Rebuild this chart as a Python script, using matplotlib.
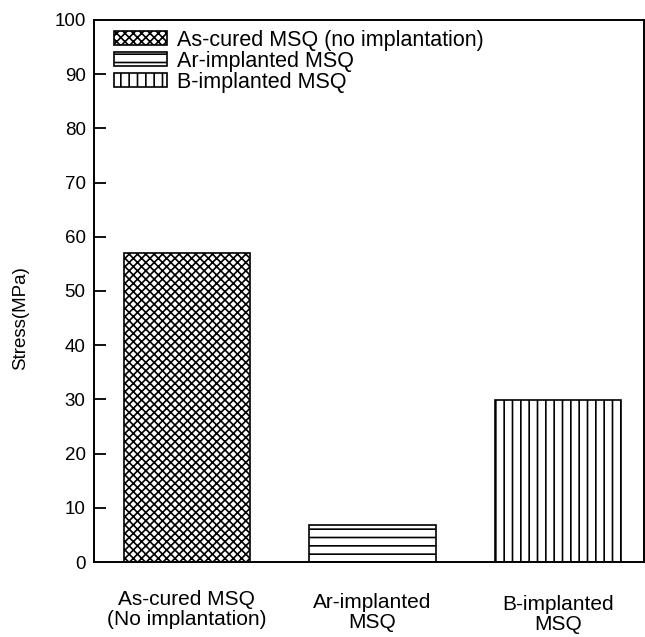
import matplotlib
matplotlib.use("Agg")
import matplotlib.pyplot as plt
from matplotlib.transforms import ScaledTranslation

plt.rcParams['font.family'] = ['Liberation Sans', 'DejaVu Sans']
plt.rcParams['hatch.linewidth'] = 1.2

# data
categories = ["As-cured MSQ\n(No implantation)", "Ar-implanted\nMSQ", "B-implanted\nMSQ"]
legend_labels = ["As-cured MSQ (no implantation)", "Ar-implanted MSQ", "B-implanted MSQ"]
stress = [57.0, 6.8, 29.8]
hatches = ["xxxx", "--", "||"]
yticks = [0, 10, 20, 30, 40, 50, 60, 70, 80, 90, 100]

fig = plt.figure(figsize=(6.45, 6.37), dpi=100)
ax = fig.add_axes([0.1457, 0.1177, 0.852, 0.851])

x = list(range(len(stress)))
for i in x:
    ax.bar(i, stress[i], width=0.68, color="white", edgecolor="black",
           hatch=hatches[i], linewidth=1.2, label=legend_labels[i])

ax.set_xlim(-0.5, 2.46)
ax.set_ylim(0, 100)
ax.set_yticks(yticks)
ax.tick_params(axis='y', direction='in', length=8.5, width=1.3, labelsize=13.5, pad=6)
ax.tick_params(axis='x', length=0, labelsize=15, pad=20)
ax.set_xticks(x)
ax.set_xticklabels(categories, linespacing=1.08)
ax.set_ylabel("Stress(MPa)", fontsize=13.5)
ax.yaxis.set_label_coords(-0.118, 0.45)

# the category labels sit a little lower going right
shifts = [0, 2, 3.5]
for lab, d in zip(ax.get_xticklabels(), shifts):
    lab.set_transform(lab.get_transform() + ScaledTranslation(0, -d / 72, fig.dpi_scale_trans))

ticks = ax.yaxis.get_major_ticks()
ticks[0].tick1line.set_visible(False)
ticks[-1].tick1line.set_visible(False)

for s in ax.spines.values():
    s.set_linewidth(1.4)

ax.legend(loc="upper left", frameon=False, fontsize=15.5, handlelength=2.5,
          handleheight=0.6, labelspacing=0.0, handletextpad=0.45,
          borderaxespad=0.0, bbox_to_anchor=(0.02, 0.998))

fig.savefig("out.png", dpi=100)
